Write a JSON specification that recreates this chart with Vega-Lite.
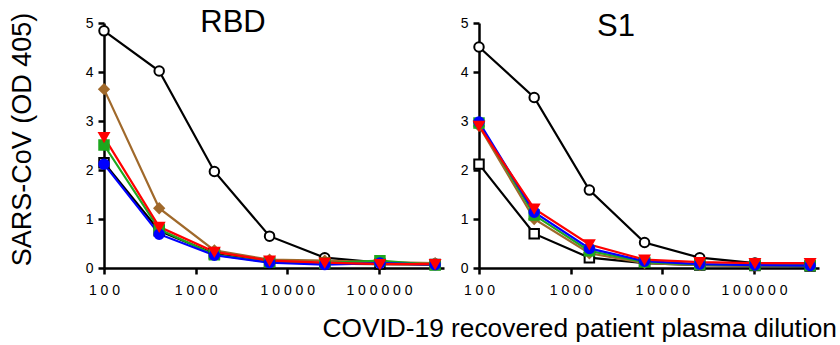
{
  "$schema": "https://vega.github.io/schema/vega-lite/v6.json",
  "background": "white",
  "padding": {"left": 8, "top": 7, "right": 4, "bottom": 3},
  "config": {
    "view": {"stroke": null},
    "font": "Liberation Sans",
    "axis": {
      "grid": false,
      "domainColor": "black",
      "domainWidth": 2.5,
      "tickColor": "black",
      "tickWidth": 2.5,
      "tickSize": 6,
      "labelColor": "black",
      "labelFont": "Liberation Sans",
      "labelFontSize": 14,
      "titleColor": "black",
      "titleFont": "Liberation Sans",
      "titleFontWeight": "normal"
    }
  },
  "title": {
    "text": "COVID-19 recovered patient plasma dilution",
    "orient": "bottom",
    "anchor": "end",
    "font": "Liberation Sans",
    "fontSize": 26.3,
    "fontWeight": "normal",
    "color": "black",
    "offset": 19,
    "dx": 18
  },
  "data": {
    "values": [
      {"panel": "RBD", "series": "c", "dilution": 100, "od": 4.84},
      {"panel": "RBD", "series": "c", "dilution": 400, "od": 4.02},
      {"panel": "RBD", "series": "c", "dilution": 1600, "od": 1.97},
      {"panel": "RBD", "series": "c", "dilution": 6400, "od": 0.65},
      {"panel": "RBD", "series": "c", "dilution": 25600, "od": 0.21},
      {"panel": "RBD", "series": "c", "dilution": 102400, "od": 0.11},
      {"panel": "RBD", "series": "c", "dilution": 409600, "od": 0.08},
      {"panel": "RBD", "series": "sq", "dilution": 100, "od": 2.15},
      {"panel": "RBD", "series": "sq", "dilution": 400, "od": 0.76},
      {"panel": "RBD", "series": "sq", "dilution": 1600, "od": 0.29},
      {"panel": "RBD", "series": "sq", "dilution": 6400, "od": 0.12},
      {"panel": "RBD", "series": "sq", "dilution": 25600, "od": 0.09},
      {"panel": "RBD", "series": "sq", "dilution": 102400, "od": 0.08},
      {"panel": "RBD", "series": "sq", "dilution": 409600, "od": 0.07},
      {"panel": "RBD", "series": "brown", "dilution": 100, "od": 3.65},
      {"panel": "RBD", "series": "brown", "dilution": 400, "od": 1.22},
      {"panel": "RBD", "series": "brown", "dilution": 1600, "od": 0.36},
      {"panel": "RBD", "series": "brown", "dilution": 6400, "od": 0.17},
      {"panel": "RBD", "series": "brown", "dilution": 25600, "od": 0.15},
      {"panel": "RBD", "series": "brown", "dilution": 102400, "od": 0.12},
      {"panel": "RBD", "series": "brown", "dilution": 409600, "od": 0.1},
      {"panel": "RBD", "series": "green", "dilution": 100, "od": 2.51},
      {"panel": "RBD", "series": "green", "dilution": 400, "od": 0.79},
      {"panel": "RBD", "series": "green", "dilution": 1600, "od": 0.27},
      {"panel": "RBD", "series": "green", "dilution": 6400, "od": 0.12},
      {"panel": "RBD", "series": "green", "dilution": 25600, "od": 0.1},
      {"panel": "RBD", "series": "green", "dilution": 102400, "od": 0.15},
      {"panel": "RBD", "series": "green", "dilution": 409600, "od": 0.06},
      {"panel": "RBD", "series": "blue", "dilution": 100, "od": 2.12},
      {"panel": "RBD", "series": "blue", "dilution": 400, "od": 0.69},
      {"panel": "RBD", "series": "blue", "dilution": 1600, "od": 0.26},
      {"panel": "RBD", "series": "blue", "dilution": 6400, "od": 0.11},
      {"panel": "RBD", "series": "blue", "dilution": 25600, "od": 0.07},
      {"panel": "RBD", "series": "blue", "dilution": 102400, "od": 0.1},
      {"panel": "RBD", "series": "blue", "dilution": 409600, "od": 0.07},
      {"panel": "RBD", "series": "red", "dilution": 100, "od": 2.67},
      {"panel": "RBD", "series": "red", "dilution": 400, "od": 0.84},
      {"panel": "RBD", "series": "red", "dilution": 1600, "od": 0.33},
      {"panel": "RBD", "series": "red", "dilution": 6400, "od": 0.15},
      {"panel": "RBD", "series": "red", "dilution": 25600, "od": 0.11},
      {"panel": "RBD", "series": "red", "dilution": 102400, "od": 0.08},
      {"panel": "RBD", "series": "red", "dilution": 409600, "od": 0.08},
      {"panel": "S1", "series": "c", "dilution": 100, "od": 4.51},
      {"panel": "S1", "series": "c", "dilution": 400, "od": 3.48},
      {"panel": "S1", "series": "c", "dilution": 1600, "od": 1.59},
      {"panel": "S1", "series": "c", "dilution": 6400, "od": 0.52},
      {"panel": "S1", "series": "c", "dilution": 25600, "od": 0.21},
      {"panel": "S1", "series": "c", "dilution": 102400, "od": 0.1},
      {"panel": "S1", "series": "c", "dilution": 409600, "od": 0.08},
      {"panel": "S1", "series": "sq", "dilution": 100, "od": 2.12},
      {"panel": "S1", "series": "sq", "dilution": 400, "od": 0.7},
      {"panel": "S1", "series": "sq", "dilution": 1600, "od": 0.21},
      {"panel": "S1", "series": "sq", "dilution": 6400, "od": 0.1},
      {"panel": "S1", "series": "sq", "dilution": 25600, "od": 0.06},
      {"panel": "S1", "series": "sq", "dilution": 102400, "od": 0.05},
      {"panel": "S1", "series": "sq", "dilution": 409600, "od": 0.04},
      {"panel": "S1", "series": "brown", "dilution": 100, "od": 2.9},
      {"panel": "S1", "series": "brown", "dilution": 400, "od": 1.0},
      {"panel": "S1", "series": "brown", "dilution": 1600, "od": 0.3},
      {"panel": "S1", "series": "brown", "dilution": 6400, "od": 0.1},
      {"panel": "S1", "series": "brown", "dilution": 25600, "od": 0.06},
      {"panel": "S1", "series": "brown", "dilution": 102400, "od": 0.05},
      {"panel": "S1", "series": "brown", "dilution": 409600, "od": 0.05},
      {"panel": "S1", "series": "green", "dilution": 100, "od": 2.96},
      {"panel": "S1", "series": "green", "dilution": 400, "od": 1.08},
      {"panel": "S1", "series": "green", "dilution": 1600, "od": 0.35},
      {"panel": "S1", "series": "green", "dilution": 6400, "od": 0.12},
      {"panel": "S1", "series": "green", "dilution": 25600, "od": 0.07},
      {"panel": "S1", "series": "green", "dilution": 102400, "od": 0.06},
      {"panel": "S1", "series": "green", "dilution": 409600, "od": 0.05},
      {"panel": "S1", "series": "blue", "dilution": 100, "od": 2.98},
      {"panel": "S1", "series": "blue", "dilution": 400, "od": 1.14},
      {"panel": "S1", "series": "blue", "dilution": 1600, "od": 0.4},
      {"panel": "S1", "series": "blue", "dilution": 6400, "od": 0.14},
      {"panel": "S1", "series": "blue", "dilution": 25600, "od": 0.08},
      {"panel": "S1", "series": "blue", "dilution": 102400, "od": 0.06},
      {"panel": "S1", "series": "blue", "dilution": 409600, "od": 0.05},
      {"panel": "S1", "series": "red", "dilution": 100, "od": 2.9},
      {"panel": "S1", "series": "red", "dilution": 400, "od": 1.21},
      {"panel": "S1", "series": "red", "dilution": 1600, "od": 0.48},
      {"panel": "S1", "series": "red", "dilution": 6400, "od": 0.17},
      {"panel": "S1", "series": "red", "dilution": 25600, "od": 0.12},
      {"panel": "S1", "series": "red", "dilution": 102400, "od": 0.1},
      {"panel": "S1", "series": "red", "dilution": 409600, "od": 0.1}
    ]
  },
  "spacing": 16,
  "hconcat": [
    {
      "width": 340,
      "height": 245,
      "title": {"text": "RBD", "fontSize": 31, "fontWeight": "normal", "color": "black", "anchor": "middle", "offset": -27, "dx": -41},
      "transform": [{"filter": "datum.panel === 'RBD'"}],
      "encoding": {
        "x": {"field": "dilution", "type": "quantitative", "scale": {"type": "log", "domain": [100, 512000], "nice": false},
              "axis": {"title": null, "values": [100, 1000, 10000, 100000], "format": "d", "labelExpr": "join(split(datum.label, ''), ' ')", "labelPadding": 9, "labelFlush": false}},
        "y": {"field": "od", "type": "quantitative", "scale": {"domain": [0, 5], "nice": false},
              "axis": {"title": "SARS-CoV (OD 405)", "titleFontSize": 27, "titlePadding": 49, "titleY": 116, "values": [0, 1, 2, 3, 4, 5], "labelPadding": 5}}
      },
      "layer": [
        {
          "mark": {"type": "line", "strokeWidth": 2.2},
          "encoding": {
            "stroke": {"field": "series", "type": "nominal", "legend": null,
                       "scale": {"domain": ["c", "sq", "brown", "green", "blue", "red"], "range": ["#000000", "#000000", "#A0692B", "#1EA81E", "#0000FF", "#FF0000"]}}
          }
        },
        {
          "mark": {"type": "point", "filled": false, "size": 90, "strokeWidth": 2, "opacity": 1},
          "encoding": {
            "stroke": {"field": "series", "type": "nominal", "legend": null,
                       "scale": {"domain": ["c", "sq", "brown", "green", "blue", "red"], "range": ["#000000", "#000000", "#A0692B", "#1EA81E", "#0000FF", "#FF0000"]}},
            "fill": {"field": "series", "type": "nominal", "legend": null,
                     "scale": {"domain": ["c", "sq", "brown", "green", "blue", "red"], "range": ["#FFFFFF", "#FFFFFF", "#A0692B", "#1EA81E", "#0000FF", "#FF0000"]}},
            "shape": {"field": "series", "type": "nominal", "legend": null,
                      "scale": {"domain": ["c", "sq", "brown", "green", "blue", "red"], "range": ["circle", "square", "diamond", "square", "circle", "triangle-down"]}}
          }
        }
      ]
    },
    {
      "width": 340,
      "height": 245,
      "title": {"text": "S1", "fontSize": 31, "fontWeight": "normal", "color": "black", "anchor": "middle", "offset": -27, "dx": -33},
      "transform": [{"filter": "datum.panel === 'S1'"}],
      "encoding": {
        "x": {"field": "dilution", "type": "quantitative", "scale": {"type": "log", "domain": [100, 512000], "nice": false},
              "axis": {"title": null, "values": [100, 1000, 10000, 100000], "format": "d", "labelExpr": "join(split(datum.label, ''), ' ')", "labelPadding": 9, "labelFlush": false}},
        "y": {"field": "od", "type": "quantitative", "scale": {"domain": [0, 5], "nice": false},
              "axis": {"title": null, "values": [0, 1, 2, 3, 4, 5], "labelPadding": 5}}
      },
      "layer": [
        {
          "mark": {"type": "line", "strokeWidth": 2.2},
          "encoding": {
            "stroke": {"field": "series", "type": "nominal", "legend": null,
                       "scale": {"domain": ["c", "sq", "brown", "green", "blue", "red"], "range": ["#000000", "#000000", "#A0692B", "#1EA81E", "#0000FF", "#FF0000"]}}
          }
        },
        {
          "mark": {"type": "point", "filled": false, "size": 90, "strokeWidth": 2, "opacity": 1},
          "encoding": {
            "stroke": {"field": "series", "type": "nominal", "legend": null,
                       "scale": {"domain": ["c", "sq", "brown", "green", "blue", "red"], "range": ["#000000", "#000000", "#A0692B", "#1EA81E", "#0000FF", "#FF0000"]}},
            "fill": {"field": "series", "type": "nominal", "legend": null,
                     "scale": {"domain": ["c", "sq", "brown", "green", "blue", "red"], "range": ["#FFFFFF", "#FFFFFF", "#A0692B", "#1EA81E", "#0000FF", "#FF0000"]}},
            "shape": {"field": "series", "type": "nominal", "legend": null,
                      "scale": {"domain": ["c", "sq", "brown", "green", "blue", "red"], "range": ["circle", "square", "diamond", "square", "circle", "triangle-down"]}}
          }
        }
      ]
    }
  ]
}
